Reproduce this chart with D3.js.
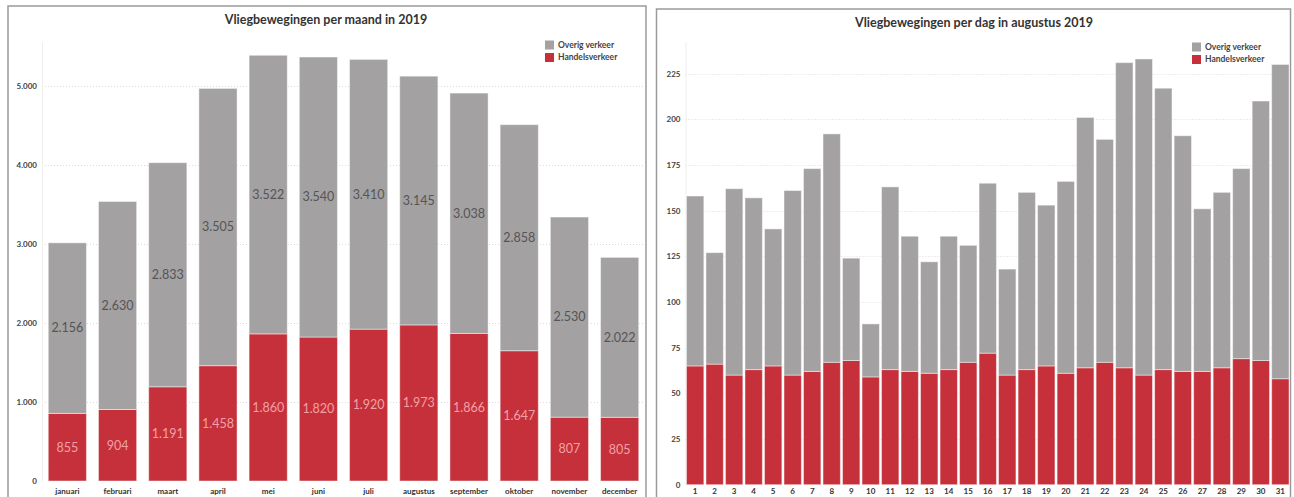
<!DOCTYPE html>
<html>
<head>
<meta charset="utf-8">
<script src="https://cdnjs.cloudflare.com/ajax/libs/d3/7.8.5/d3.min.js"></script>
<style>
  html, body { margin: 0; padding: 0; background: #fff; }
  svg { display: block; font-family: Lato, "Open Sans", sans-serif; }
</style>
</head>
<body>
<svg id="chart" width="1294" height="497"></svg>
<script>
// Monthly flight movements 2019
const months = ["januari", "februari", "maart", "april", "mei", "juni", "juli",
  "augustus", "september", "oktober", "november", "december"];
const handelsMaand = [855, 904, 1191, 1458, 1860, 1820, 1920, 1973, 1866, 1647, 807, 805];
const overigMaand = [2156, 2630, 2833, 3505, 3522, 3540, 3410, 3145, 3038, 2858, 2530, 2022];
const ticksMaand = [0, 1000, 2000, 3000, 4000, 5000];

// Daily flight movements August 2019
const days = ["1","2","3","4","5","6","7","8","9","10","11","12","13","14","15","16",
  "17","18","19","20","21","22","23","24","25","26","27","28","29","30","31"];
const handelsDag = [65, 66, 60, 63, 65, 60, 62, 67, 68, 59, 63, 62, 61, 63, 67, 72,
  60, 63, 65, 61, 64, 67, 64, 60, 63, 62, 62, 64, 69, 68, 58];
const overigDag = [93, 61, 102, 94, 75, 101, 111, 125, 56, 29, 100, 74, 61, 73, 64, 93,
  58, 97, 88, 105, 137, 122, 167, 173, 154, 129, 89, 96, 104, 142, 172];
const ticksDag = [0, 25, 50, 75, 100, 125, 150, 175, 200, 225];

const seriesNames = ["Overig verkeer", "Handelsverkeer"];
const colors = { handels: "#c6303a", overig: "#a3a1a2" };

const nl = d3.formatLocale({ decimal: ",", thousands: ".", grouping: [3], currency: ["€", ""] });
const fmt = nl.format(",d");

const svg = d3.select("#chart");

// Panel frames
svg.append("rect").attr("x", 8).attr("y", 6).attr("width", 638).attr("height", 500)
  .attr("fill", "none").attr("stroke", "#9a9a9a").attr("stroke-width", 1.5);
svg.append("rect").attr("x", 656.5).attr("y", 9).attr("width", 634).attr("height", 500)
  .attr("fill", "none").attr("stroke", "#9a9a9a").attr("stroke-width", 1.5);

function drawChart(opts) {
  const g = svg.append("g");
  const rows = opts.cats.map((c, i) => ({ cat: c, handels: opts.handels[i], overig: opts.overig[i] }));
  const stacked = d3.stack().keys(["handels", "overig"])(rows);

  const x = d3.scaleBand().domain(opts.cats).range(opts.xRange)
    .paddingInner(opts.padIn).paddingOuter(opts.padOut);
  const y = d3.scaleLinear().domain([0, opts.yMax]).range(opts.yRange);

  // title
  g.append("text").attr("x", opts.titleX).attr("y", opts.titleY)
    .attr("text-anchor", "middle").attr("font-size", 12.5).attr("font-weight", 700)
    .attr("fill", "#333").text(opts.title);

  // gridlines
  g.append("g").selectAll("line").data(opts.ticks.filter(t => t > 0)).join("line")
    .attr("x1", opts.xRange[0]).attr("x2", opts.xRange[1])
    .attr("y1", d => Math.round(y(d)) + 0.5).attr("y2", d => Math.round(y(d)) + 0.5)
    .attr("stroke", "#dcdcdc").attr("stroke-dasharray", "1,2");

  // y axis
  const ya = g.append("g").attr("transform", `translate(${opts.xRange[0]},0)`)
    .call(d3.axisLeft(y).tickValues(opts.ticks).tickFormat(opts.tickFmt).tickSize(0).tickPadding(5));
  ya.select(".domain").attr("stroke", "#eeeeee");
  ya.selectAll("text").attr("font-size", 8).attr("font-weight", 700).attr("fill", "#444")
    .attr("font-family", "Lato, sans-serif");

  // bars
  g.append("g").selectAll("g").data(stacked).join("g")
    .attr("fill", d => colors[d.key])
    .selectAll("rect").data(d => d).join("rect")
    .attr("x", d => x(d.data.cat))
    .attr("width", x.bandwidth())
    .attr("y", d => y(d[1]))
    .attr("height", d => y(d[0]) - y(d[1]))
    .attr("stroke", "rgba(255,255,255,0.45)").attr("stroke-width", 1);

  // x axis
  const xa = g.append("g").attr("transform", `translate(0,${opts.yRange[0]})`)
    .call(d3.axisBottom(x).tickSize(0).tickPadding(opts.xPad));
  xa.select(".domain").remove();
  xa.selectAll("text").attr("font-size", 8).attr("font-weight", 700).attr("fill", "#333")
    .attr("font-family", "Lato, sans-serif");

  // value labels
  if (opts.labels) {
    const lab = g.append("g").attr("font-size", 12.5).attr("text-anchor", "middle");
    stacked.forEach(s => {
      lab.append("g").attr("fill", s.key === "handels" ? "#f2a0a6" : "#555555")
        .selectAll("text").data(s).join("text")
        .attr("x", d => x(d.data.cat) + x.bandwidth() / 2)
        .attr("y", d => (y(d[0]) + y(d[1])) / 2)
        .attr("dy", "0.35em")
        .text(d => fmt(d[1] - d[0]));
    });
  }

  // legend
  const lg = g.append("g").attr("transform", `translate(${opts.legendX},${opts.legendY})`);
  const legendKeys = [["overig", seriesNames[0]], ["handels", seriesNames[1]]];
  legendKeys.forEach(([k, name], i) => {
    lg.append("rect").attr("x", 0).attr("y", i * 12.5 - 4.5).attr("width", 9).attr("height", 9)
      .attr("fill", colors[k]);
    lg.append("text").attr("x", 13).attr("y", i * 12.5).attr("dy", "0.35em")
      .attr("font-size", 8.5).attr("font-weight", 700).attr("fill", "#444").text(name);
  });
}

drawChart({
  title: "Vliegbewegingen per maand in 2019",
  titleX: 326, titleY: 24,
  cats: months, handels: handelsMaand, overig: overigMaand,
  xRange: [42, 645], padIn: 0.24, padOut: 0.125,
  yMax: 5550, yRange: [481, 42],
  ticks: ticksMaand, tickFmt: fmt,
  xPad: 7, labels: true,
  legendX: 545, legendY: 45
});

drawChart({
  title: "Vliegbewegingen per dag in augustus 2019",
  titleX: 974, titleY: 27,
  cats: days, handels: handelsDag, overig: overigDag,
  xRange: [685.5, 1290], padIn: 0.11, padOut: 0.05,
  yMax: 242.3, yRange: [484.7, 42],
  ticks: ticksDag, tickFmt: d3.format("d"),
  xPad: 4, labels: false,
  legendX: 1192, legendY: 47
});
</script>
</body>
</html>
